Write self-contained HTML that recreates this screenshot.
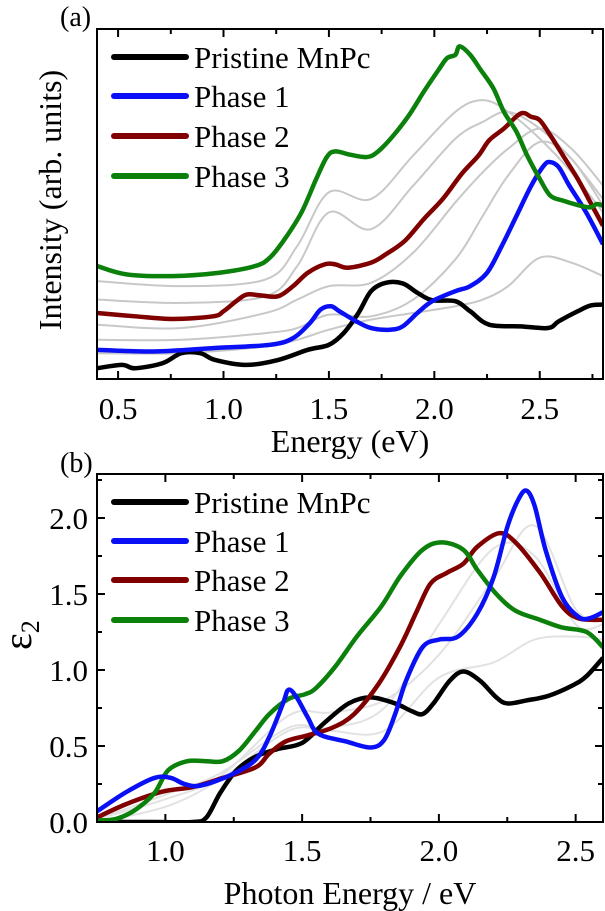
<!DOCTYPE html>
<html><head><meta charset="utf-8">
<style>
html,body{margin:0;padding:0;background:#fff;}
svg{display:block;font-family:"Liberation Serif",serif;}
</style></head>
<body>
<svg id="fig" width="605" height="911" viewBox="0 0 605 911" xmlns="http://www.w3.org/2000/svg">
<g id="pa"></g>
<g id="pb"></g>
</svg>
<script>
// ---------- Panel (a) data: energy (eV) and intensity (arb. units) ----------
const aTicks = [0.5, 1.0, 1.5, 2.0, 2.5];
const aTickLabels = ["0.5", "1.0", "1.5", "2.0", "2.5"];
const aNames = ["Pristine MnPc", "Phase 1", "Phase 2", "Phase 3"];
const aGreenX = [0.40,0.54,0.76,0.98,1.15,1.22,1.29,1.37,1.44,1.49,1.53,1.60,1.68,1.73,1.80,1.88,1.95,2.02,2.06,2.10,2.12,2.17,2.22,2.28,2.33,2.39,2.44,2.50,2.55,2.61,2.68,2.74,2.77,2.80];
const aGreenY = [33.7,31.2,30.7,31.7,33.7,36.2,41.7,49.7,59.7,66.2,67.9,66.9,66.2,67.7,72.2,78.7,85.7,92.2,95.7,96.7,99.2,96.7,92.2,86.7,79.7,73.7,66.7,59.7,54.7,53.2,51.9,51.2,52.2,51.7];
const aRedX = [0.40,0.58,0.76,0.95,1.00,1.06,1.11,1.18,1.26,1.33,1.40,1.48,1.53,1.59,1.70,1.77,1.86,1.95,2.04,2.13,2.21,2.26,2.33,2.41,2.46,2.50,2.55,2.61,2.68,2.74,2.80];
const aRedY = [19.7,18.7,17.9,18.7,20.2,23.2,25.2,24.9,24.7,27.7,31.7,34.2,34.2,33.2,34.7,37.2,41.2,47.7,53.7,61.2,66.7,71.2,74.7,79.2,78.2,77.2,72.7,66.7,59.7,52.7,45.7];
const aBlueX = [0.40,0.67,0.95,1.22,1.33,1.41,1.46,1.51,1.55,1.63,1.70,1.79,1.85,1.92,1.99,2.10,2.17,2.25,2.32,2.39,2.46,2.52,2.55,2.59,2.64,2.72,2.80];
const aBlueY = [8.7,8.2,9.2,10.2,12.2,16.7,20.7,21.7,20.2,17.2,15.2,14.7,15.7,19.7,23.2,26.2,27.7,31.7,39.7,48.7,57.7,63.7,64.7,63.2,57.7,49.7,40.2];
const aBlackX = [0.40,0.52,0.58,0.71,0.80,0.89,0.96,1.11,1.26,1.40,1.50,1.57,1.64,1.70,1.77,1.85,1.92,1.99,2.10,2.17,2.26,2.41,2.54,2.59,2.68,2.74,2.80];
const aBlackY = [3.2,4.2,3.2,4.7,7.7,7.7,5.7,4.2,5.7,8.7,10.2,13.7,19.7,26.2,28.7,28.5,25.7,23.5,23.2,20.2,16.2,15.7,15.2,17.2,20.2,21.9,22.2];
const aGrayX = [0.40,0.8,1.2,1.35,1.5,1.7,1.9,2.1,2.23,2.35,2.5,2.65,2.8];
const aGray1 = [29.2,27.7,29.7,39.7,55.7,53.7,66.7,79.7,83.2,79.7,71.7,61.7,49.7];
const aGray2 = [23.7,22.7,24.7,33.7,49.7,44.7,57.7,71.7,76.7,79.7,74.7,65.7,53.7];
const aGray3 = [16.2,15.2,19.7,23.7,27.7,28.7,37.7,52.7,61.7,68.7,74.7,68.7,57.7];
const aGray4 = [11.7,11.7,13.7,15.2,19.2,18.7,23.7,35.7,48.7,60.7,70.7,65.7,51.7];
const aGray5 = [7.7,7.7,9.7,11.7,14.7,17.7,19.7,21.7,23.7,27.7,36.2,34.7,30.7];

// ---------- Panel (b) data: photon energy (eV) and epsilon_2 ----------
const bXTicks = [1.0, 1.5, 2.0, 2.5];
const bXTickLabels = ["1.0", "1.5", "2.0", "2.5"];
const bYTicks = [0, 0.5, 1.0, 1.5, 2.0];
const bYTickLabels = ["0.0", "0.5", "1.0", "1.5", "2.0"];
const bBlackX = [0.75,0.96,1.10,1.15,1.20,1.26,1.33,1.41,1.50,1.58,1.67,1.75,1.84,1.90,1.94,1.98,2.04,2.09,2.15,2.21,2.25,2.32,2.40,2.49,2.54,2.60];
const bBlackY = [0,0,0,0.03,0.19,0.34,0.43,0.48,0.52,0.65,0.78,0.82,0.78,0.73,0.71,0.78,0.93,0.99,0.93,0.82,0.78,0.80,0.83,0.90,0.96,1.08];
const bBlueX = [0.75,0.86,0.96,1.02,1.07,1.13,1.24,1.33,1.38,1.43,1.45,1.48,1.52,1.56,1.66,1.75,1.80,1.84,1.88,1.94,2.00,2.07,2.14,2.20,2.25,2.29,2.32,2.35,2.39,2.45,2.51,2.55,2.60];
const bBlueY = [0.07,0.20,0.29,0.29,0.25,0.24,0.31,0.41,0.56,0.78,0.87,0.82,0.69,0.58,0.53,0.49,0.54,0.71,0.93,1.15,1.20,1.22,1.37,1.61,1.94,2.12,2.18,2.08,1.79,1.48,1.35,1.34,1.38];
const bRedX = [0.75,0.86,0.99,1.10,1.21,1.33,1.38,1.44,1.52,1.61,1.69,1.78,1.86,1.92,1.97,2.03,2.09,2.14,2.22,2.28,2.37,2.45,2.51,2.60];
const bRedY = [0.03,0.12,0.20,0.23,0.29,0.36,0.45,0.53,0.57,0.62,0.71,0.91,1.16,1.39,1.57,1.64,1.70,1.81,1.90,1.84,1.64,1.42,1.34,1.33];
const bGreenX = [0.75,0.82,0.89,0.96,1.01,1.08,1.15,1.21,1.27,1.33,1.38,1.45,1.51,1.55,1.62,1.70,1.79,1.86,1.94,2.01,2.09,2.14,2.21,2.28,2.37,2.45,2.54,2.60];
const bGreenY = [0.01,0.02,0.08,0.19,0.34,0.40,0.40,0.40,0.47,0.60,0.71,0.81,0.84,0.88,1.02,1.22,1.42,1.62,1.79,1.84,1.79,1.66,1.50,1.39,1.33,1.28,1.25,1.15];
const bGrayX = [0.75,1.0,1.2,1.45,1.6,1.8,2.0,2.2,2.35,2.5,2.6];
const bGray1 = [0.02,0.15,0.30,0.70,0.72,0.80,1.10,1.60,1.95,1.40,1.33];
const bGray2 = [0.02,0.18,0.32,0.62,0.62,0.75,1.30,1.80,1.75,1.30,1.30];
const bGray3 = [0.00,0.10,0.28,0.60,0.60,0.60,0.95,1.05,1.20,1.22,1.20];

const NS = "http://www.w3.org/2000/svg";
function mk(parent, tag, attrs, text) {
  const e = document.createElementNS(NS, tag);
  for (const k in attrs) e.setAttribute(k, attrs[k]);
  if (text !== undefined) e.textContent = text;
  parent.appendChild(e);
  return e;
}
function smoothPath(xs, ys, sx, sy) {
  const p = xs.map((x, i) => [sx(x), sy(ys[i])]);
  let d = "M" + p[0][0].toFixed(2) + "," + p[0][1].toFixed(2);
  for (let i = 0; i < p.length - 1; i++) {
    const p0 = p[Math.max(0, i - 1)], p1 = p[i], p2 = p[i + 1], p3 = p[Math.min(p.length - 1, i + 2)];
    const c1x = p1[0] + (p2[0] - p0[0]) / 6, c1y = p1[1] + (p2[1] - p0[1]) / 6;
    const c2x = p2[0] - (p3[0] - p1[0]) / 6, c2y = p2[1] - (p3[1] - p1[1]) / 6;
    d += "C" + c1x.toFixed(2) + "," + c1y.toFixed(2) + " " + c2x.toFixed(2) + "," + c2y.toFixed(2) + " " + p2[0].toFixed(2) + "," + p2[1].toFixed(2);
  }
  return d;
}

// ---------------- Panel (a) ----------------
(function () {
  const g = document.getElementById("pa");
  const L = 97, R = 603, T = 29, B = 379;
  const x0 = 0.4, x1 = 2.8, y0 = 0, y1 = 104.4;
  const sx = v => L + (v - x0) / (x1 - x0) * (R - L);
  const sy = v => B - (v - y0) / (y1 - y0) * (B - T);
  const cp = mk(g, "clipPath", { id: "clipA" });
  mk(cp, "rect", { x: L, y: T, width: R - L, height: B - T });
  const plot = mk(g, "g", { "clip-path": "url(#clipA)" });
  
  
  const grays = [aGray1, aGray2, aGray3, aGray4, aGray5];
  grays.forEach((ys, i) => {
    const e = mk(plot, "path", { d: smoothPath(aGrayX, ys, sx, sy), fill: "none", stroke: "#c8c8c8", "stroke-width": 2 });
    
    
  });
  const series = [
    [aBlackX, aBlackY, "#000000", "pristine-line-a"],
    [aBlueX, aBlueY, "#0a10f5", "phase1-line-a"],
    [aRedX, aRedY, "#800000", "phase2-line-a"],
    [aGreenX, aGreenY, "#0b800b", "phase3-line-a"]
  ];
  series.forEach(s => {
    const e = mk(plot, "path", { d: smoothPath(s[0], s[1], sx, sy), fill: "none", stroke: s[2], "stroke-width": 4.5, "stroke-linejoin": "round" });
    
    
  });
  const fr = mk(g, "rect", { x: L, y: T, width: R - L, height: B - T, fill: "none", stroke: "#000", "stroke-width": 2 });
  
  
  for (let v = 0.5; v <= 2.76; v += 0.25) {
    const major = Math.abs(v * 2 - Math.round(v * 2)) < 1e-6;
    const len = major ? 8 : 5;
    const t1 = mk(g, "line", { x1: sx(v), x2: sx(v), y1: B, y2: B - len, stroke: "#000", "stroke-width": 2 });
    
    
    const t2 = mk(g, "line", { x1: sx(v), x2: sx(v), y1: T, y2: T + len, stroke: "#000", "stroke-width": 2 });
    
    
  }
  aTicks.forEach((v, i) => {
    const t = mk(g, "text", { x: sx(v), y: 419, "text-anchor": "middle", "font-size": 31 }, aTickLabels[i]);
    
    
  });
  const xl = mk(g, "text", { x: 350, y: 452, "text-anchor": "middle", "font-size": 32 }, "Energy (eV)");
  
  
  const yl = mk(g, "text", { x: 0, y: 0, "text-anchor": "middle", "font-size": 32, transform: "translate(61,200) rotate(-90)" }, "Intensity (arb. units)");
  
  
  const pl = mk(g, "text", { x: 60, y: 26, "font-size": 28 }, "(a)");
  
  
  const cols = ["#000000", "#0a10f5", "#800000", "#0b800b"];
  const ly = [57, 96, 136, 176];
  aNames.forEach((n, i) => {
    const lg = mk(g, "g", {});
    
    
    mk(lg, "line", { x1: 114, x2: 186, y1: ly[i], y2: ly[i], stroke: cols[i], "stroke-width": 6, "stroke-linecap": "round" });
    mk(lg, "text", { x: 194, y: ly[i] + 11, "font-size": 31 }, n);
  });
})();

// ---------------- Panel (b) ----------------
(function () {
  const g = document.getElementById("pb");
  const L = 97, R = 603, T = 474, B = 822;
  const x0 = 0.75, x1 = 2.6, y0 = 0, y1 = (822 - 474) / 152;
  const sx = v => L + (v - x0) / (x1 - x0) * (R - L);
  const sy = v => B - (v - y0) / (y1 - y0) * (B - T);
  const cp = mk(g, "clipPath", { id: "clipB" });
  mk(cp, "rect", { x: L, y: T, width: R - L, height: B - T });
  const plot = mk(g, "g", { "clip-path": "url(#clipB)" });
  
  
  [bGray1, bGray2, bGray3].forEach((ys, i) => {
    const e = mk(plot, "path", { d: smoothPath(bGrayX, ys, sx, sy), fill: "none", stroke: "#e2e2e2", "stroke-width": 2 });
    
    
  });
  const series = [
    [bBlackX, bBlackY, "#000000", "pristine-line-b"],
    [bRedX, bRedY, "#800000", "phase2-line-b"],
    [bGreenX, bGreenY, "#0b800b", "phase3-line-b"],
    [bBlueX, bBlueY, "#0a10f5", "phase1-line-b"]
  ];
  series.forEach(s => {
    const e = mk(plot, "path", { d: smoothPath(s[0], s[1], sx, sy), fill: "none", stroke: s[2], "stroke-width": 4.5, "stroke-linejoin": "round" });
    
    
  });
  const fr = mk(g, "rect", { x: L, y: T, width: R - L, height: B - T, fill: "none", stroke: "#000", "stroke-width": 2 });
  
  
  for (let v = 0.75; v <= 2.51; v += 0.25) {
    const major = Math.abs(v * 2 - Math.round(v * 2)) < 1e-6;
    const len = major ? 8 : 5;
    const t1 = mk(g, "line", { x1: sx(v), x2: sx(v), y1: B, y2: B - len, stroke: "#000", "stroke-width": 2 });
    
    
    const t2 = mk(g, "line", { x1: sx(v), x2: sx(v), y1: T, y2: T + len, stroke: "#000", "stroke-width": 2 });
    
    
  }
  for (let v = 0; v <= 2.26; v += 0.25) {
    const major = Math.abs(v * 2 - Math.round(v * 2)) < 1e-6;
    const len = major ? 8 : 5;
    const t1 = mk(g, "line", { x1: L, x2: L + len, y1: sy(v), y2: sy(v), stroke: "#000", "stroke-width": 2 });
    
    
    const t2 = mk(g, "line", { x1: R, x2: R - len, y1: sy(v), y2: sy(v), stroke: "#000", "stroke-width": 2 });
    
    
  }
  bXTicks.forEach((v, i) => {
    const t = mk(g, "text", { x: sx(v), y: 861, "text-anchor": "middle", "font-size": 31 }, bXTickLabels[i]);
    
    
  });
  bYTicks.forEach((v, i) => {
    const t = mk(g, "text", { x: 88, y: sy(v) + 11, "text-anchor": "end", "font-size": 31 }, bYTickLabels[i]);
    
    
  });
  const xl = mk(g, "text", { x: 350, y: 904, "text-anchor": "middle", "font-size": 32 }, "Photon Energy / eV");
  
  
  const yl = mk(g, "text", { x: 0, y: 0, "font-size": 40, transform: "translate(31,650) rotate(-90)" });
  
  
  mk(yl, "tspan", {}, "ε");
  mk(yl, "tspan", { dy: 8, "font-size": 26 }, "2");
  const pl = mk(g, "text", { x: 60, y: 472, "font-size": 28 }, "(b)");
  
  
  const names = ["Pristine MnPc", "Phase 1", "Phase 2", "Phase 3"];
  const cols = ["#000000", "#0a10f5", "#800000", "#0b800b"];
  const ly = [502, 541, 580, 620];
  names.forEach((n, i) => {
    const lg = mk(g, "g", {});
    
    
    mk(lg, "line", { x1: 114, x2: 186, y1: ly[i], y2: ly[i], stroke: cols[i], "stroke-width": 6, "stroke-linecap": "round" });
    mk(lg, "text", { x: 194, y: ly[i] + 11, "font-size": 31 }, n);
  });
})();
</script>
</body></html>
